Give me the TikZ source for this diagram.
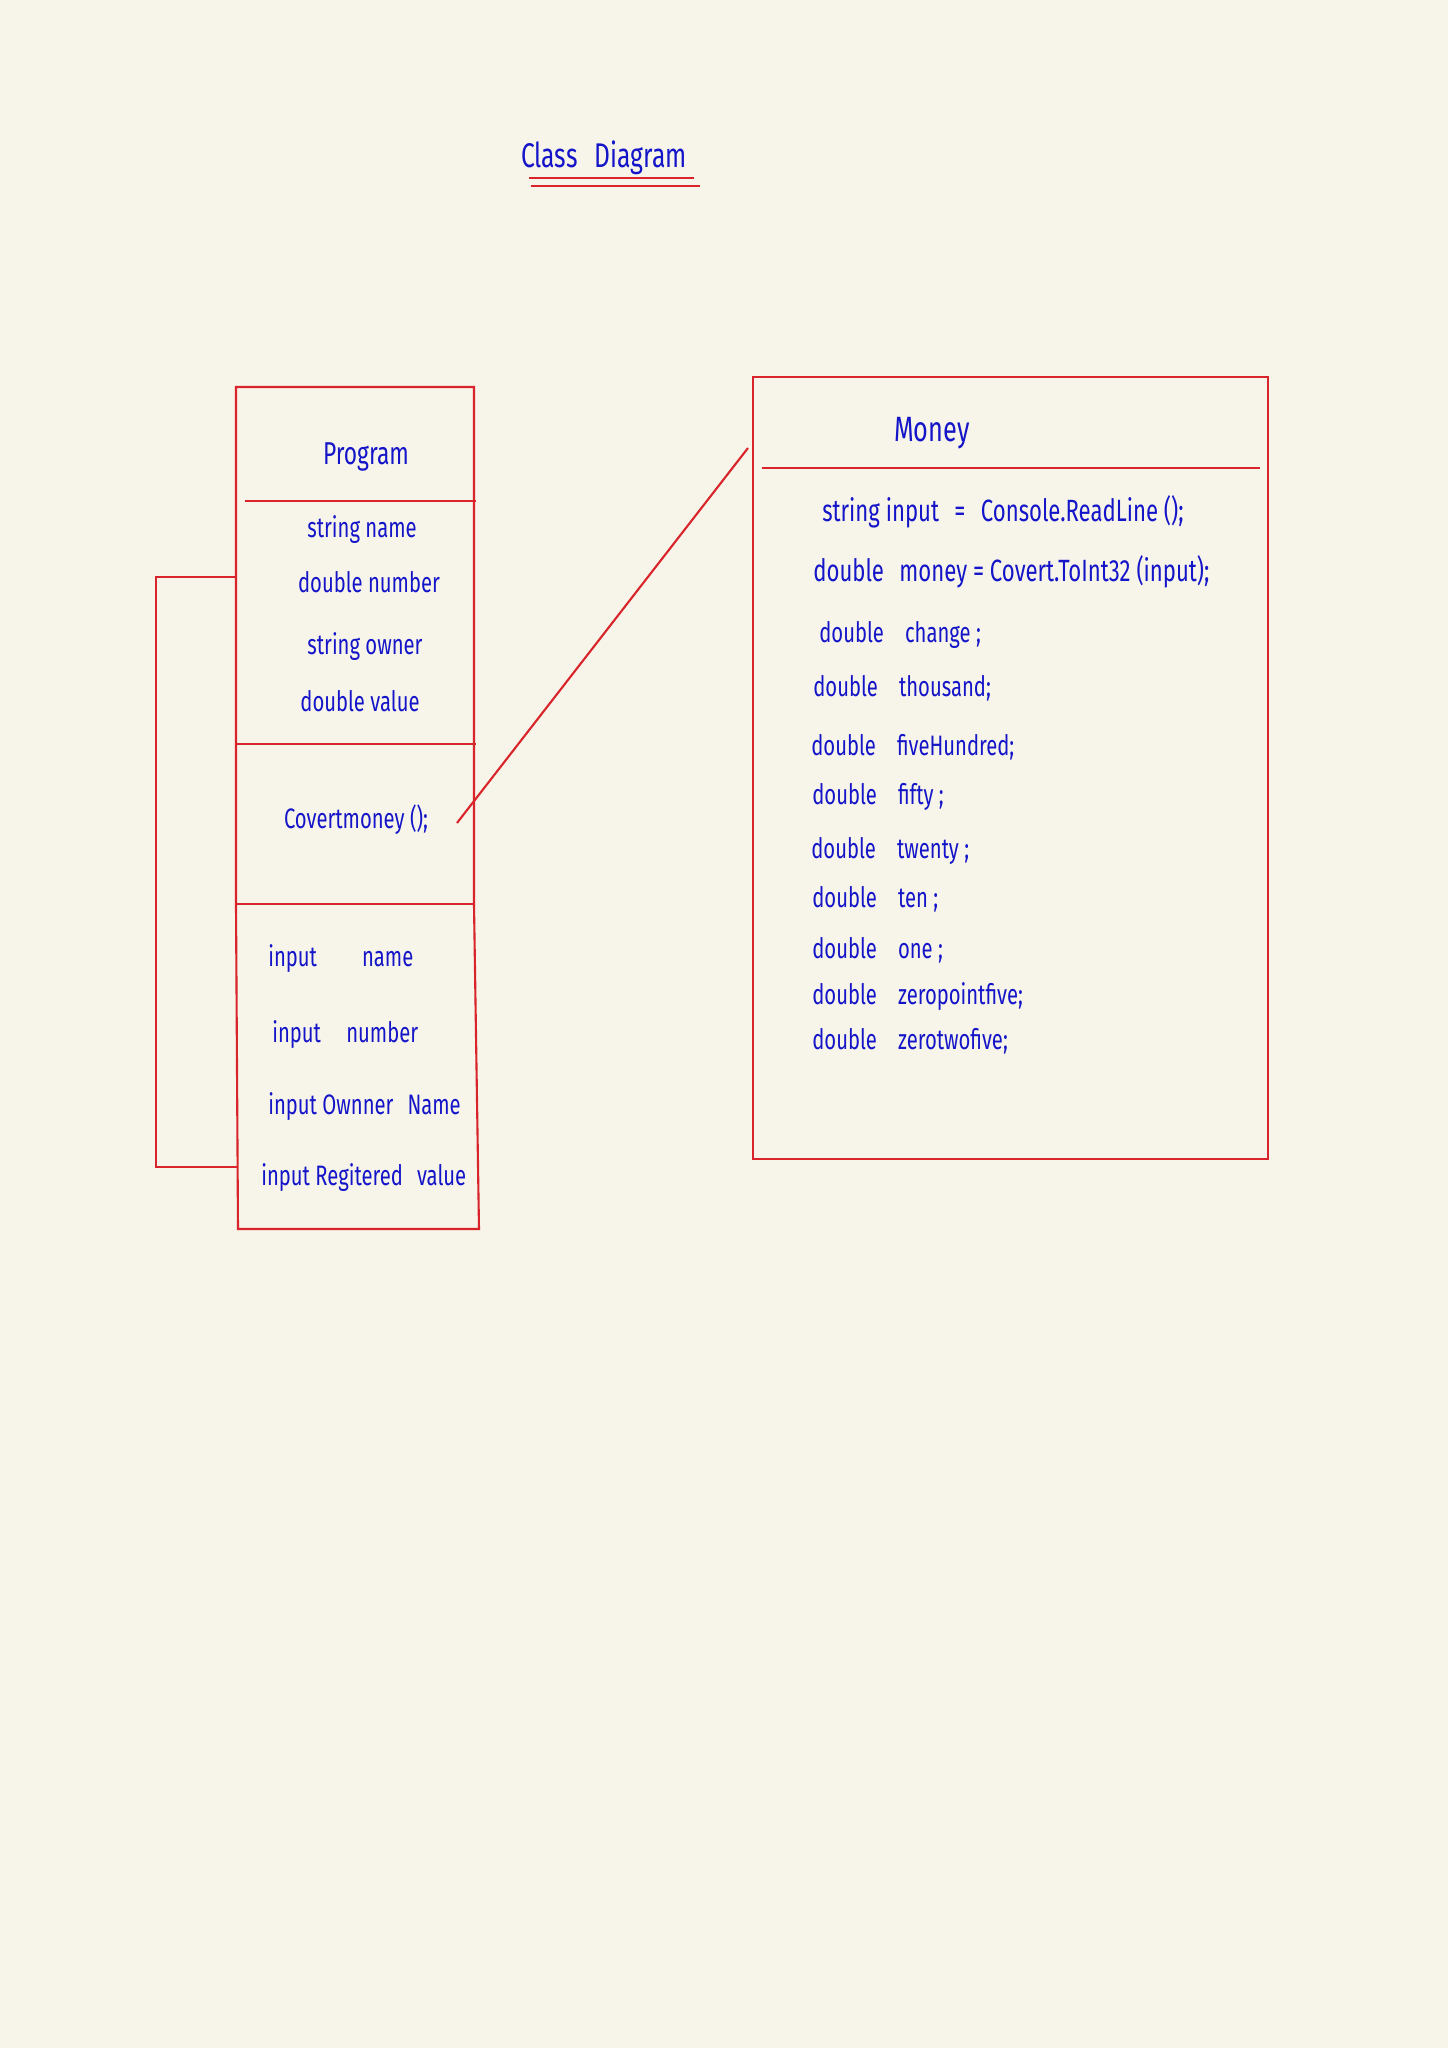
\documentclass[tikz,border=0pt]{standalone}
\usepackage{fontspec}
\setmainfont{Fira Sans}[FakeStretch=0.72]

\definecolor{paper}{HTML}{F7F5E9}
\definecolor{ink}{HTML}{1414C8}
\definecolor{pen}{HTML}{D8242A}

\begin{document}
\begin{tikzpicture}[scale=0.2,
    line/.style={pen, line width=1.2pt},
    hand/.style={ink, inner sep=0pt, font=\fontsize{16}{18}\selectfont},
    field/.style={hand, anchor=west},
    big/.style={ink, inner sep=0pt, font=\fontsize{#1}{#1}\selectfont}]
        \fill [paper] (0,0) rectangle (144.8,-204.8);
        % title
        \node [big=19.5] (title) at (60.4,-15.8) {Class\enspace Diagram};
        \coordinate (ua) at (52.9,-17.8);
        \coordinate (ub) at (69.4,-17.8);
        \coordinate (uc) at (53.1,-18.6);
        \coordinate (ud) at (70.0,-18.6);
        \draw [line] (ua) -- (ub);
        \draw [line] (uc) -- (ud);
        % Program box
        \coordinate (p1) at (23.6,-38.7);
        \coordinate (p2) at (47.4,-38.7);
        \coordinate (p3) at (47.4,-90.4);
        \coordinate (p4) at (47.9,-122.9);
        \coordinate (p5) at (23.8,-122.9);
        \coordinate (p6) at (23.6,-90.4);
        \draw [line] (p1) -- (p2) -- (p3) -- (p4) -- (p5) -- (p6) -- cycle;
        \draw [line] (24.5,-50.1) -- (47.6,-50.1);
        \draw [line] (23.6,-74.4) -- (47.6,-74.4);
        \draw [line] (p6) -- (p3);
        \node [big=18] (prog) at (36.6,-45.7) {Program};
        \node [hand] (pname) at (36.2,-53.0) {string name};
        \node [hand] (pnumber) at (36.9,-58.2) {double number};
        \node [hand] (powner) at (36.5,-64.7) {string owner};
        \node [hand] (pvalue) at (36.0,-70.1) {double value};
        \node [hand] (pconv) at (35.6,-82.0) {Covertmoney ();};
        \node [field] (inname) at (26.8,-95.9) {input\hspace{1.6em}name};
        \node [field] (innumber) at (27.2,-103.5) {input\hspace{0.9em}number};
        \node [field] (inowner) at (26.8,-110.7) {input Ownner\enspace Name};
        \node [field] (invalue) at (26.1,-117.8) {input Regitered\enspace value};
        % side bracket
        \coordinate (brtop) at (23.6,-57.7);
        \coordinate (brbot) at (23.7,-116.7);
        \draw [line] (brtop) -- ++(-8,0) |- (brbot);
        % Money box
        \coordinate (m1) at (75.3,-37.7);
        \coordinate (m2) at (126.8,-115.9);
        \draw [line] (m1) rectangle (m2);
        \draw [line] (76.2,-46.8) -- (126.0,-46.8);
        \node [big=20] (money) at (93.2,-43.3) {Money};
        \node [field, font=\fontsize{17.5}{19}\selectfont] (ma) at (82.2,-51.2) {string input\enspace =\enspace Console.ReadLine ();};
        \node [field, font=\fontsize{17.5}{19}\selectfont] (mb) at (81.3,-57.2) {double\enspace money = Covert.ToInt32 (input);};
        \node [field] (mc) at (81.9,-63.5) {double\hspace{.75em}change ;};
        \node [field] (md) at (81.3,-68.8) {double\hspace{.75em}thousand;};
        \node [field] (me) at (81.1,-74.7) {double\hspace{.75em}fiveHundred;};
        \node [field] (mf) at (81.2,-79.7) {double\hspace{.75em}fifty ;};
        \node [field] (mg) at (81.1,-85.1) {double\hspace{.75em}twenty ;};
        \node [field] (mh) at (81.2,-89.9) {double\hspace{.75em}ten ;};
        \node [field] (mi) at (81.2,-95.0) {double\hspace{.75em}one ;};
        \node [field] (mj) at (81.2,-99.7) {double\hspace{.75em}zeropointfive;};
        \node [field] (mk) at (81.2,-104.1) {double\hspace{.75em}zerotwofive;};
        % link
        \coordinate (convend) at (45.7,-82.3);
        \coordinate (mleft) at (74.8,-44.8);
        \draw [line] (convend) -- (mleft);
\end{tikzpicture}
\end{document}
